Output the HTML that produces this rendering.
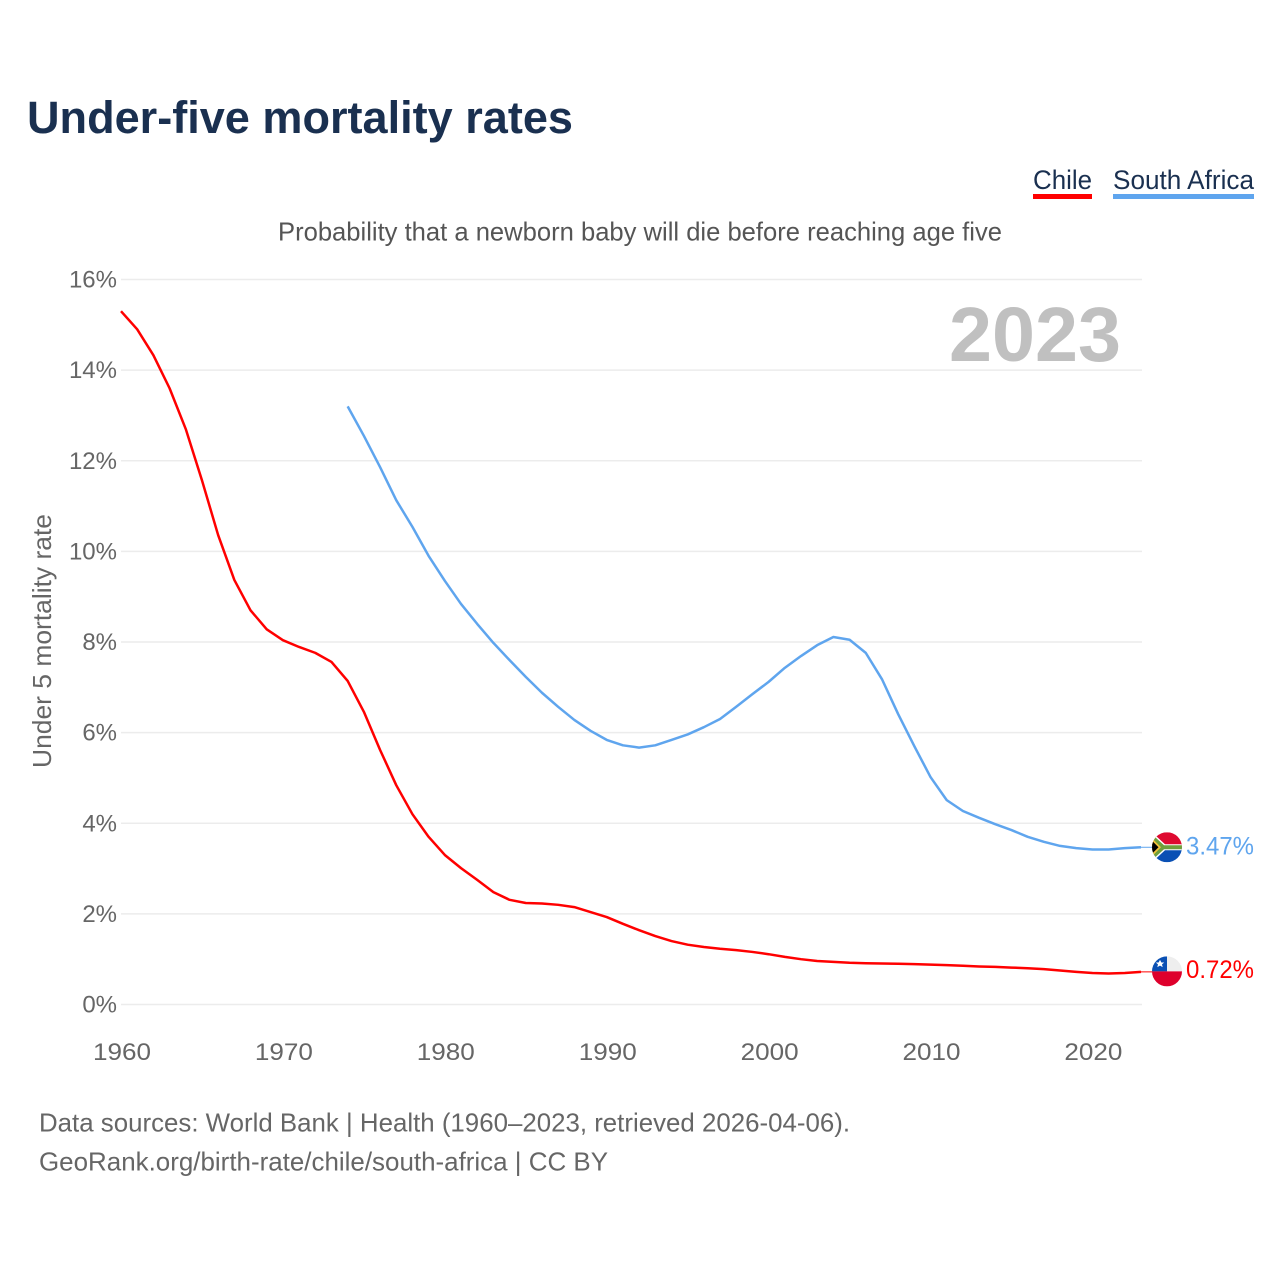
<!DOCTYPE html>
<html lang="en">
<head>
<meta charset="utf-8">
<title>Under-five mortality rates</title>
<style>
html,body{margin:0;padding:0;background:#fff;}
svg{display:block;font-family:"Liberation Sans",sans-serif;}
</style>
</head>
<body>
<svg id="chart" width="1280" height="1280" viewBox="0 0 1280 1280" xmlns="http://www.w3.org/2000/svg">
  <defs>
    <clipPath id="flag-clip"><circle cx="0" cy="0" r="15"/></clipPath>
  </defs>
  <rect width="1280" height="1280" fill="#fff"/>
  <text x="27" y="133" font-size="45" font-weight="700" fill="#1a3050" textLength="546" lengthAdjust="spacingAndGlyphs">Under-five mortality rates</text>

  <g>
    <g>
      <text x="1033" y="189" font-size="27" fill="#1a3050" textLength="59" lengthAdjust="spacingAndGlyphs">Chile</text>
      <rect x="1033" y="194" width="59" height="5" fill="#ff0000"/>
    </g>
    <g>
      <text x="1113" y="189" font-size="27" fill="#1a3050" textLength="141" lengthAdjust="spacingAndGlyphs">South Africa</text>
      <rect x="1113" y="194" width="141" height="5" fill="#5fa5ee"/>
    </g>
  </g>

  <text x="278" y="240.5" font-size="26" fill="#555" textLength="724" lengthAdjust="spacingAndGlyphs">Probability that a newborn baby will die before reaching age five</text>
  <text transform="translate(51,768) rotate(-90)" font-size="26" fill="#666" textLength="254" lengthAdjust="spacingAndGlyphs">Under 5 mortality rate</text>

  <g id="grid"></g>
  <g id="y-ticks"></g>
  <g id="x-ticks"></g>

  <text x="949" y="361" font-size="77" font-weight="700" fill="#c0c0c0" textLength="172" lengthAdjust="spacingAndGlyphs">2023</text>

  <g id="series"></g>

  <g id="flag-south-africa">
    <g clip-path="url(#flag-clip)">
      <rect x="-15" y="-15" width="30" height="15" fill="#de0a30"/>
      <rect x="-15" y="0" width="30" height="15" fill="#0a50b4"/>
      <path d="M-15,-15 L-2,-3 L15,-3 L15,3 L-2,3 L-15,15 Z" fill="#fff"/>
      <path d="M-15,-13 L-3,-2 L15,-2 L15,2 L-3,2 L-15,13 Z" fill="#6f9f3c"/>
      <path d="M-15,-9 L-6,0 L-15,9 Z" fill="#f5c33b"/>
      <path d="M-15,-6.5 L-8.5,0 L-15,6.5 Z" fill="#000"/>
    </g>
  </g>
  <g id="flag-chile">
    <g clip-path="url(#flag-clip)">
      <rect x="-15" y="-15" width="30" height="15" fill="#eeeeee"/>
      <rect x="-15" y="-15" width="15" height="15" fill="#0a50b4"/>
      <rect x="-15" y="0" width="30" height="15" fill="#de002c"/>
      <polygon points="-7,-11.5 -5.6,-8.9 -2.8,-8.9 -5,-7 -4.3,-4.2 -7,-5.8 -9.7,-4.2 -9,-7 -11.2,-8.9 -8.4,-8.9" fill="#fff"/>
    </g>
  </g>
  <g id="end-labels"></g>

  <text x="39" y="1131.5" font-size="26" fill="#666" textLength="811" lengthAdjust="spacingAndGlyphs">Data sources: World Bank | Health (1960–2023, retrieved 2026-04-06).</text>
  <text x="39" y="1170.5" font-size="26" fill="#666" textLength="569" lengthAdjust="spacingAndGlyphs">GeoRank.org/birth-rate/chile/south-africa | CC BY</text>
</svg>
<script>
var yTickValues = [0, 2, 4, 6, 8, 10, 12, 14, 16];
var xTickYears = [1960, 1970, 1980, 1990, 2000, 2010, 2020];
var chileStartYear = 1960;
var chileValues = [15.3, 14.9, 14.33, 13.6, 12.7, 11.57, 10.36, 9.37, 8.7, 8.28,
  8.04, 7.89, 7.76, 7.56, 7.14, 6.46, 5.62, 4.84, 4.2, 3.7,
  3.3, 3.01, 2.75, 2.48, 2.31, 2.24, 2.23, 2.2, 2.15, 2.04,
  1.93, 1.78, 1.64, 1.51, 1.4, 1.32, 1.27, 1.23, 1.2, 1.16,
  1.11, 1.05, 1.0, 0.96, 0.94, 0.92, 0.91, 0.905, 0.9, 0.89,
  0.88, 0.87, 0.855, 0.84, 0.83, 0.815, 0.8, 0.78, 0.75, 0.72,
  0.695, 0.685, 0.695, 0.72];
var southAfricaStartYear = 1974;
var southAfricaValues = [13.2, 12.55, 11.86, 11.13, 10.54, 9.9,
  9.35, 8.84, 8.4, 7.98, 7.6, 7.23, 6.88, 6.57, 6.28, 6.04,
  5.84, 5.72, 5.67, 5.72, 5.84, 5.96, 6.12, 6.3, 6.57, 6.85,
  7.12, 7.43, 7.69, 7.93, 8.11, 8.05, 7.76, 7.18, 6.41, 5.7,
  5.02, 4.51, 4.27, 4.12, 3.98, 3.85, 3.7, 3.59, 3.5, 3.45,
  3.42, 3.42, 3.45, 3.47];

var SVG_NS = 'http://www.w3.org/2000/svg';
function xScale(year) { return 121 + (year - 1960) * (1141 - 121) / 63; }
function yScale(value) { return 1004.5 - value * (1004.5 - 279.5) / 16; }

function make(tag, attrs, parent, text) {
  var el = document.createElementNS(SVG_NS, tag);
  for (var k in attrs) { el.setAttribute(k, attrs[k]); }
  if (text !== undefined) { el.textContent = text; }
  parent.appendChild(el);
  return el;
}

var gridGroup = document.getElementById('grid');
var yTickGroup = document.getElementById('y-ticks');
var xTickGroup = document.getElementById('x-ticks');
var seriesGroup = document.getElementById('series');
var labelGroup = document.getElementById('end-labels');

yTickValues.forEach(function (v) {
  var line = make('line', {x1: 121, x2: 1142, y1: yScale(v), y2: yScale(v), stroke: '#ececec', 'stroke-width': 1.4}, gridGroup);
  
  
  var label = make('text', {x: 117, y: yScale(v) + 8, 'text-anchor': 'end', 'font-size': 24, fill: '#666'}, yTickGroup, v + '%');
  
  
});

xTickYears.forEach(function (yr) {
  var label = make('text', {x: xScale(yr) + 1, y: 1060, 'text-anchor': 'middle', 'font-size': 24, fill: '#666', textLength: 58, lengthAdjust: 'spacingAndGlyphs'}, xTickGroup, yr);
  
  
});

function pathFor(values, startYear) {
  return values.map(function (v, i) {
    return (i ? 'L' : 'M') + xScale(startYear + i).toFixed(2) + ',' + yScale(v).toFixed(2);
  }).join(' ');
}

var chileLine = make('path', {d: pathFor(chileValues, chileStartYear), fill: 'none', stroke: '#ff0000', 'stroke-width': 2.5, 'stroke-linejoin': 'round'}, seriesGroup);



var southAfricaLine = make('path', {d: pathFor(southAfricaValues, southAfricaStartYear), fill: 'none', stroke: '#5fa5ee', 'stroke-width': 2.5, 'stroke-linejoin': 'round'}, seriesGroup);



var chileLast = chileValues[chileValues.length - 1];
var southAfricaLast = southAfricaValues[southAfricaValues.length - 1];

var chileConnector = make('line', {x1: xScale(2023), x2: 1152, y1: yScale(chileLast), y2: yScale(chileLast), stroke: '#ff0000', 'stroke-width': 1}, seriesGroup);



var southAfricaConnector = make('line', {x1: xScale(2023), x2: 1152, y1: yScale(southAfricaLast), y2: yScale(southAfricaLast), stroke: '#5fa5ee', 'stroke-width': 1}, seriesGroup);



document.getElementById('flag-chile').setAttribute('transform', 'translate(1167,' + (yScale(chileLast) - 0.5) + ')');
document.getElementById('flag-south-africa').setAttribute('transform', 'translate(1167,' + yScale(southAfricaLast) + ')');

var chileLabel = make('text', {x: 1254, y: yScale(chileLast) + 6, 'text-anchor': 'end', 'font-size': 25, fill: '#ff0000', textLength: 68, lengthAdjust: 'spacingAndGlyphs'}, labelGroup, chileLast.toFixed(2) + '%');



var southAfricaLabel = make('text', {x: 1254, y: yScale(southAfricaLast) + 7, 'text-anchor': 'end', 'font-size': 25, fill: '#5fa5ee', textLength: 68, lengthAdjust: 'spacingAndGlyphs'}, labelGroup, southAfricaLast.toFixed(2) + '%');


</script>
</body>
</html>
